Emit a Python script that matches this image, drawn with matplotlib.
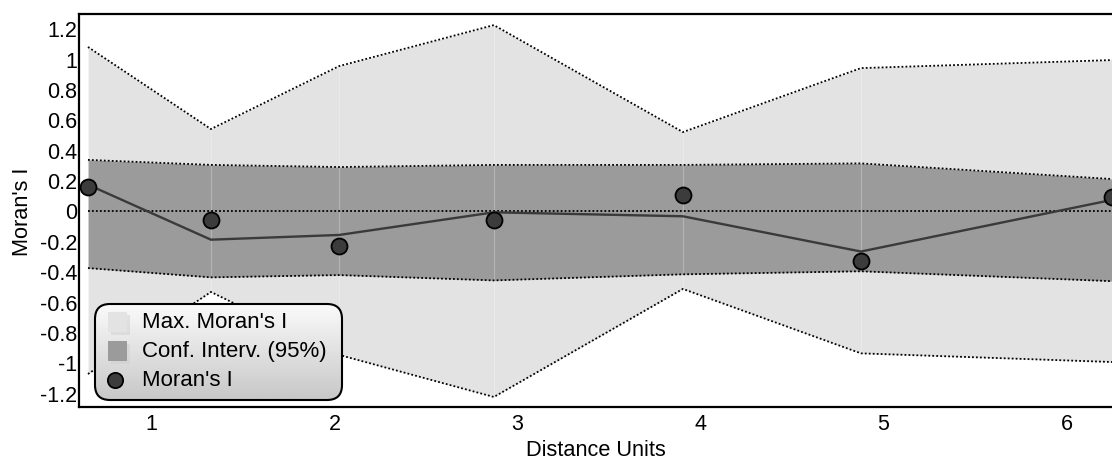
import numpy as np
import matplotlib
matplotlib.use("Agg")
import matplotlib.pyplot as plt
from matplotlib.patches import FancyBboxPatch, Rectangle

plt.rcParams['font.family'] = ['Liberation Sans', 'DejaVu Sans']

# distance classes and Moran's I values
dist = [0.653, 1.325, 2.025, 2.871, 3.904, 4.877, 6.25]
max_upper = [1.076, 0.536, 0.95, 1.22, 0.516, 0.937, 0.99]
max_lower = [-1.076, -0.536, -0.95, -1.227, -0.516, -0.94, -0.997]
ci_upper = [0.333, 0.30, 0.286, 0.30, 0.30, 0.31, 0.207]
ci_lower = [-0.379, -0.44, -0.425, -0.46, -0.42, -0.40, -0.465]
expected = [0.17, -0.192, -0.161, -0.012, -0.038, -0.27, 0.07]
morans_i = [0.155, -0.06, -0.236, -0.06, 0.102, -0.334, 0.09]

yticks = [-1.2, -1, -0.8, -0.6, -0.4, -0.2, 0, 0.2, 0.4, 0.6, 0.8, 1, 1.2]
ytick_labels = ["-1.2", "-1", "-0.8", "-0.6", "-0.4", "-0.2", "0",
                "0.2", "0.4", "0.6", "0.8", "1", "1.2"]
xticks = [1, 2, 3, 4, 5, 6]
legend_labels = ["Max. Moran's I", "Conf. Interv. (95%)", "Moran's I"]

light = '#e3e3e3'
dark = '#9b9b9b'
point_fc = '#3c3c3c'
dots = (0, (1, 1.2))

W, H = 1112, 460
AX_L, AX_T, AX_R, AX_B = 79, 15, 1112, 408

fig = plt.figure(figsize=(W / 100, H / 100), dpi=100)
ax = fig.add_axes([AX_L / W, (H - AX_B) / H, (AX_R - AX_L) / W, (AX_B - AX_T) / H])


def px(x, y):
    # pixel position -> axes fraction
    return (x - AX_L) / (AX_R - AX_L), (AX_B - y) / (AX_B - AX_T)


ax.fill_between(dist, max_lower, max_upper, color=light, lw=0, zorder=1)
ax.fill_between(dist, ci_lower, ci_upper, color=dark, lw=0, zorder=2)

# faint seams at each distance class
for x, lo, hi in zip(dist, max_lower, max_upper):
    ax.plot([x, x], [lo, hi], color='white', alpha=0.25, lw=0.8, zorder=2.5)

for s in (max_upper, max_lower, ci_upper, ci_lower):
    ax.plot(dist, s, color='black', ls=dots, lw=1.3, zorder=3)
ax.plot([dist[0], dist[-1]], [0, 0], color='black', ls=dots, lw=1.3, zorder=3)

ax.plot(dist, expected, color='#3a3a3a', lw=1.7, zorder=4)
ax.plot(dist, morans_i, ls='none', marker='o', ms=11.5, mfc=point_fc,
        mec='black', mew=1.3, zorder=4.5)

ax.set_yticks(yticks)
ax.set_yticklabels(ytick_labels)
ax.set_xticks(xticks)
ax.tick_params(length=0, labelsize=15.5)
ax.tick_params(axis='y', pad=1)
ax.tick_params(axis='x', pad=4)
for side in ('top', 'left', 'bottom'):
    ax.spines[side].set_linewidth(1.6)
ax.spines['right'].set_visible(False)

ax.set_xlabel("Distance Units", fontsize=15.7, labelpad=4)
ax.set_ylabel("Moran's I", fontsize=15.7, labelpad=5)

# legend box with vertical gradient
x0, y1 = px(95, 305)
x1, y0 = px(342, 401)
box = FancyBboxPatch((x0, y0), x1 - x0, y1 - y0,
                     boxstyle="round,pad=0,rounding_size=0.0145",
                     mutation_aspect=(AX_R - AX_L) / (AX_B - AX_T),
                     transform=ax.transAxes, facecolor='none',
                     edgecolor='black', lw=1.5, zorder=7)
ax.add_patch(box)
grad = np.linspace(0.98, 0.78, 100).reshape(-1, 1)
im = ax.imshow(grad, extent=[x0, x1, y0, y1], transform=ax.transAxes,
               cmap='gray', vmin=0, vmax=1, aspect='auto', zorder=6,
               origin='upper')
im.set_clip_path(box)

# legend entries
rows = [323, 352, 381]
for py, fc in zip(rows[:2], [light, dark]):
    sx, sy = px(111, py + 13)
    sw, sh = 19 / (AX_R - AX_L), 20 / (AX_B - AX_T)
    ax.add_patch(Rectangle((sx, sy), sw, sh, transform=ax.transAxes,
                           facecolor='#cfcfcf', alpha=0.5, lw=0, zorder=7.5))
    bx, by = px(108, py + 10)
    ax.add_patch(Rectangle((bx, by), sw, sh, transform=ax.transAxes,
                           facecolor=fc, lw=0, zorder=7.6))
cx, cy = px(115, rows[2])
ax.plot([cx], [cy], transform=ax.transAxes, ls='none', marker='o', ms=11,
        mfc=point_fc, mec='black', mew=1.3, zorder=8, clip_on=False)
for py, lab in zip(rows, legend_labels):
    tx, ty = px(142, py)
    ax.text(tx, ty, lab, transform=ax.transAxes, fontsize=16,
            ha='left', va='center', zorder=8)

ax.set_xlim(0.604, 6.249)
ax.set_ylim(-1.293, 1.293)

fig.savefig("out.png", dpi=100)
